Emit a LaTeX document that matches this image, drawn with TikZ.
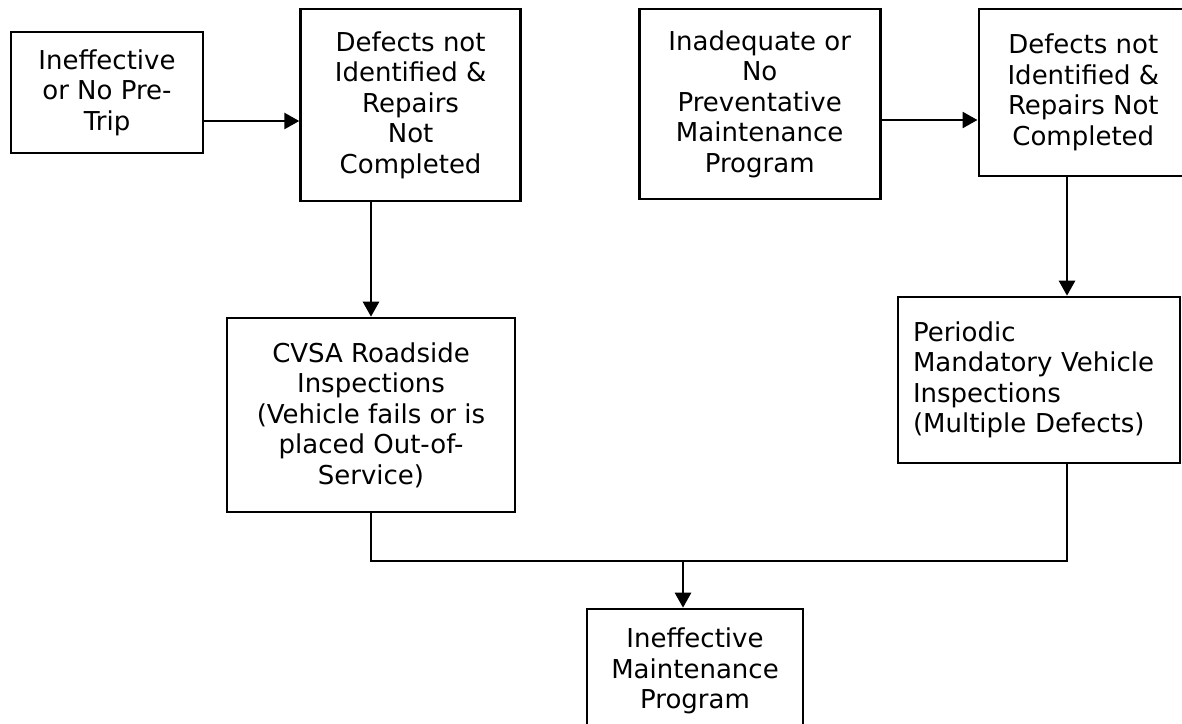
\documentclass[tikz,border=0pt]{standalone}
\usepackage{fontspec}
\setmainfont{DejaVu Sans}
\usetikzlibrary{arrows.meta}
\usetikzlibrary{positioning}
\tikzstyle{box} = [rectangle, draw=black, line width=2.6pt, align=center, inner sep=0pt]
\tikzstyle{line} = [line width=2.6pt]
\tikzstyle{arrow} = [line width=2.6pt, -{Triangle[length=15pt,width=16pt]}]
\tikzstyle{every node}=[font=\fontsize{26}{30.5}\selectfont]

\begin{document}
\begin{tikzpicture}[x=1pt, y=-1pt]
\clip (0,0) rectangle (1182,723);

\node (pretrip) [box, minimum width=192pt, minimum height=121pt] at (107,92.5) {Ineffective\\or No Pre-\\Trip};
\node (defectsA) [box, minimum width=220pt, minimum height=192pt, right=95pt of pretrip.north east, anchor=north west, yshift=23pt] {Defects not\\Identified \&\\Repairs\\Not\\Completed};
\node (inadequate) [box, minimum width=241pt, minimum height=190pt, right=116pt of defectsA.north east, anchor=north west] {Inadequate or\\No\\Preventative\\Maintenance\\Program};
\node (defectsB) [box, minimum width=209pt, minimum height=167pt, right=96pt of inadequate.north east, anchor=north west] {Defects not\\Identified \&\\Repairs Not\\Completed};
\node (cvsa) [box, minimum width=288pt, minimum height=194pt] at (371,415) {CVSA Roadside\\Inspections\\(Vehicle fails or is\\placed Out-of-\\Service)};
\node (periodic) [box, minimum width=282pt, minimum height=166pt, align=left, text width=252pt] at (1039,380) {Periodic\\Mandatory Vehicle\\Inspections\\(Multiple Defects)};
\node (maint) [box, minimum width=216pt, minimum height=124pt] at (695,671) {Ineffective\\Maintenance\\Program};

\coordinate (rowA) at (0,121);
\coordinate (rowB) at (0,120);
\coordinate (colA) at (371,0);
\coordinate (colB) at (1067,0);
\coordinate (join) at (683,561);

\draw [arrow] (pretrip.east |- rowA) -- (defectsA.west |- rowA);
\draw [arrow] (inadequate.east |- rowB) -- (defectsB.west |- rowB);
\draw [arrow] (defectsA.south -| colA) -- (cvsa.north);
\draw [arrow] (defectsB.south -| colB) -- (periodic.north -| colB);
\draw [line] (cvsa.south) |- (join) -| (periodic.south -| colB);
\draw [arrow] (join) -- (maint.north -| join);

\end{tikzpicture}
\end{document}
